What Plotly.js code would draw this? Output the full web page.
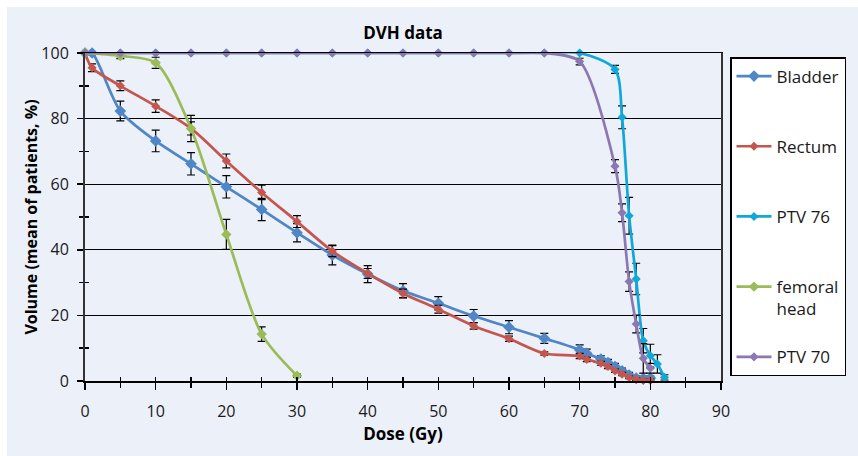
<!DOCTYPE html>
<html>
<head>
<meta charset="utf-8">
<script src="https://cdn.plot.ly/plotly-3.0.1.min.js"></script>
<style>
  html, body { margin: 0; padding: 0; background: #ffffff; width: 858px; height: 456px; overflow: hidden; }
  #chart { position: absolute; left: 7px; top: 7px; width: 851px; height: 449px; }
</style>
</head>
<body>
<div id="chart"></div>
<script>
// ---- Data ----
const bladderX = [0, 1, 5, 10, 15, 20, 25, 30, 35, 40, 45, 50, 55, 60, 65, 70, 71, 73, 74, 75, 76, 77, 78, 79, 80];
const bladderY = [100, 100, 82.3, 73.2, 66.2, 59.2, 52.3, 45.2, 38.4, 32.6, 27.5, 23.7, 19.8, 16.4, 13.0, 9.5, 8.4, 6.7, 5.6, 4.4, 3.1, 1.8, 0.9, 0.8, 0.9];
const bladderErr = [0, 0.5, 3.0, 3.3, 3.4, 3.4, 3.4, 2.8, 3.0, 2.6, 2.2, 2.0, 2.0, 2.0, 1.5, 1.5, 1.3, 1.0, 1.0, 1.0, 0.8, 0.8, 0.6, 0.6, 0.6];

const rectumX = [0, 1, 5, 10, 15, 20, 25, 30, 35, 40, 45, 50, 55, 60, 65, 70, 71, 73, 74, 75, 76, 77, 78, 79, 80];
const rectumY = [100, 95.5, 90.0, 83.8, 77.0, 67.1, 57.5, 48.6, 39.6, 32.8, 26.7, 21.9, 16.8, 12.9, 8.4, 7.6, 6.6, 5.4, 4.4, 3.1, 2.1, 1.1, 0.5, 0.2, 0.2];
const rectumErr = [0, 1.2, 1.5, 1.9, 2.0, 2.1, 2.2, 1.8, 1.7, 1.5, 1.3, 1.2, 1.0, 0.8, 0.5, 0.8, 0.7, 0.6, 0.6, 0.5, 0.5, 0.4, 0.4, 0.3, 0.3];

const ptv76X = [0, 5, 10, 15, 20, 25, 30, 35, 40, 45, 50, 55, 60, 65, 70, 75, 76, 77, 78, 79, 80, 81, 82];
const ptv76Y = [100, 100, 100, 100, 100, 100, 100, 100, 100, 100, 100, 100, 100, 100, 100, 95.0, 80.4, 50.4, 31.1, 12.3, 7.7, 5.2, 1.1];
const ptv76Err = [0, 0, 0, 0, 0, 0, 0, 0, 0, 0, 0, 0, 0, 0, 0, 1.2, 3.5, 5.6, 4.8, 3.7, 3.5, 2.8, 0.8];

const femoralX = [0, 5, 10, 15, 20, 25, 30];
const femoralY = [100, 99.1, 97.0, 77.0, 44.7, 14.3, 1.6];
const femoralErr = [0, 0.8, 1.7, 4.0, 4.6, 2.2, 0.5];

const ptv70X = [0, 5, 10, 15, 20, 25, 30, 35, 40, 45, 50, 55, 60, 65, 70, 75, 76, 77, 78, 79, 80];
const ptv70Y = [100, 100, 100, 100, 100, 100, 100, 100, 100, 100, 100, 100, 100, 100, 97.4, 65.5, 51.3, 30.3, 17.4, 6.9, 3.9];
const ptv70Err = [0, 0, 0, 0, 0, 0, 0, 0, 0, 0, 0, 0, 0, 0, 1.0, 2.0, 2.7, 3.0, 2.7, 4.5, 1.5];

const seriesNames = ['Bladder<br>\u00a0', 'Rectum<br>\u00a0', 'PTV 76<br>\u00a0', 'femoral<br>head', 'PTV 70'];
const seriesColors = ['#4F86C6', '#C4564F', '#0FA8D8', '#9BBB59', '#8C78B0'];

const xTicks = [0, 10, 20, 30, 40, 50, 60, 70, 80, 90];
const yTicks = [0, 20, 40, 60, 80, 100];

const FONT = '"Open Sans", "Noto Sans", sans-serif';

function series(i, xs, ys, errs, msize) {
  return {
    type: 'scatter', mode: 'lines+markers',
    name: seriesNames[i], legendgroup: 'g' + i,
    x: xs, y: ys,
    line: { color: seriesColors[i], width: 2.7, shape: 'spline', smoothing: 0.8 },
    marker: { symbol: 'diamond', size: msize, color: seriesColors[i] },
    error_y: { type: 'data', array: errs, visible: true, color: '#000000', thickness: 1.2, width: 4 },
    cliponaxis: false,
    hoverinfo: 'x+y+name'
  };
}

const traces = [
  series(0, bladderX, bladderY, bladderErr, 9),
  series(1, rectumX, rectumY, rectumErr, 7),
  series(2, ptv76X, ptv76Y, ptv76Err, 7),
  series(3, femoralX, femoralY, femoralErr, 8),
  series(4, ptv70X, ptv70Y, ptv70Err, 7),
  // helper trace for overlay axes (inside tick marks)
  { type: 'scatter', x: [], y: [], xaxis: 'x2', yaxis: 'y2', showlegend: false, hoverinfo: 'skip' }
];

const layout = {
  width: 851, height: 449,
  paper_bgcolor: '#ECF0F9', plot_bgcolor: '#ECF0F9',
  margin: { l: 78, r: 137, t: 46, b: 75, pad: 0 },
  font: { family: FONT, size: 16, color: '#1a1a1a' },
  title: {
    text: '<b>DVH data</b>', font: { family: FONT, size: 17, color: '#000' },
    xref: 'paper', x: 0.5, xanchor: 'center', yref: 'container', y: 1 - 26 / 449, yanchor: 'middle'
  },
  xaxis: {
    range: [0, 90], tickvals: xTicks, ticktext: xTicks.map(String),
    ticks: 'outside', ticklen: 7, tickwidth: 1.5, tickcolor: '#000',
    minor: { dtick: 5, ticks: 'outside', ticklen: 5, tickwidth: 1.5, tickcolor: '#000', showgrid: false },
    showline: true, linecolor: '#000', linewidth: 1.5, mirror: true,
    showgrid: false, zeroline: false, ticklabelstandoff: 8,
    tickfont: { family: FONT, size: 16, color: '#1a1a1a' },
    title: { text: '<b>Dose (Gy)</b>', font: { family: FONT, size: 17, color: '#000' }, standoff: 7 }
  },
  yaxis: {
    range: [0, 100], tickvals: yTicks, ticktext: yTicks.map(String),
    ticks: 'outside', ticklen: 6, tickwidth: 1.5, tickcolor: '#000',
    minor: { dtick: 10, ticks: 'outside', ticklen: 4, tickwidth: 1.5, tickcolor: '#000', showgrid: false },
    showline: true, linecolor: '#333', linewidth: 2, mirror: true,
    showgrid: true, gridcolor: '#000', gridwidth: 1, zeroline: false, ticklabelstandoff: 5,
    tickfont: { family: FONT, size: 16, color: '#1a1a1a' },
    title: { text: '<b>Volume (mean of patients, %)</b>', font: { family: FONT, size: 16, color: '#000' }, standoff: 0 }
  },
  xaxis2: {
    overlaying: 'x', anchor: 'y2', side: 'bottom', range: [0, 90],
    dtick: 5, tick0: 0, ticks: 'inside', ticklen: 4, tickwidth: 1.5, tickcolor: '#000',
    showticklabels: false, showgrid: false, zeroline: false, showline: false
  },
  yaxis2: {
    overlaying: 'y', anchor: 'x2', side: 'left', range: [0, 100],
    tickvals: [10, 30, 50, 70, 90], ticks: 'inside', ticklen: 4, tickwidth: 1.5, tickcolor: '#000',
    showticklabels: false, showgrid: false, zeroline: false, showline: false
  },
  legend: {
    x: (730 - 85) / 636, xanchor: 'left', y: 1 - (57 - 53) / 328, yanchor: 'top',
    bgcolor: '#ffffff', bordercolor: '#000', borderwidth: 1.5,
    font: { family: FONT, size: 17, color: '#1a1a1a' },
    tracegroupgap: 23, valign: 'top', itemwidth: 35
  },
  showlegend: true
};

Plotly.newPlot('chart', traces, layout, { displayModeBar: false, staticPlot: true });
</script>
</body>
</html>
